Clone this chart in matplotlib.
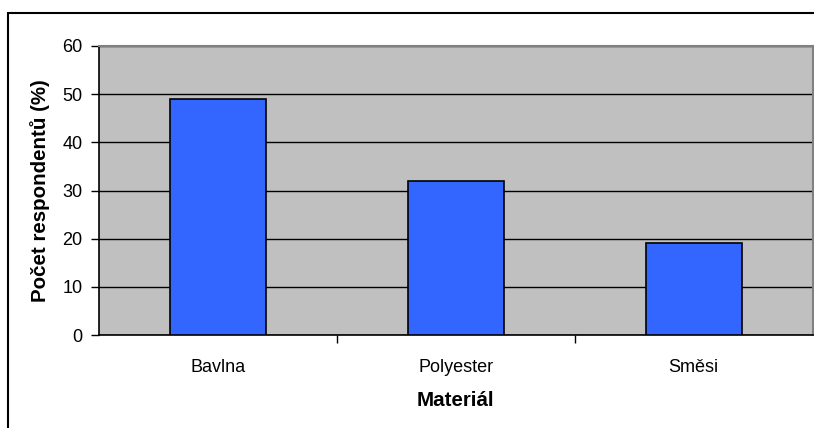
import matplotlib
matplotlib.use("Agg")
from matplotlib import pyplot as plt
from matplotlib.patches import Rectangle

# survey data
materials = ["Bavlna", "Polyester", "Směsi"]
respondents = [49, 32, 19]
y_ticks = [0, 10, 20, 30, 40, 50, 60]

plt.rcParams["font.family"] = ["Liberation Sans", "DejaVu Sans"]

fig = plt.figure(figsize=(8.14, 4.28), dpi=100)
ax = fig.add_axes([99 / 814, 93 / 428, 713.6 / 814, 289 / 428])

# outer frame of the chart
fig.patches.append(Rectangle((8 / 814, -0.2), 1.5, 1.2 - 13 / 428,
                             transform=fig.transFigure, fill=False,
                             edgecolor="black", linewidth=1.5))

positions = range(len(materials))
ax.bar(positions, respondents, width=0.404, color="#3366FF",
       edgecolor="black", linewidth=1.2, zorder=3)

ax.set_facecolor("#C0C0C0")
ax.set_xlim(-0.5, len(materials) - 0.5)
ax.set_ylim(0, 60)
ax.set_yticks(y_ticks)
ax.yaxis.grid(True, color="black", linewidth=1.0, zorder=1)
ax.set_axisbelow(True)

# category ticks sit between the bars
ax.set_xticks([0.5, 1.5], minor=False)
ax.set_xticklabels([])
ax.set_xticks(list(positions), minor=True)
ax.set_xticklabels(materials, minor=True)
ax.tick_params(axis="x", which="major", direction="out", length=6, width=1)
ax.tick_params(axis="x", which="minor", length=0, pad=17, labelsize=13)
ax.tick_params(axis="y", direction="out", length=6, width=1, pad=6,
               labelsize=13)

for side in ["left", "bottom"]:
    ax.spines[side].set_color("black")
    ax.spines[side].set_linewidth(1.2)
for side in ["top", "right"]:
    ax.spines[side].set_color("#808080")
    ax.spines[side].set_linewidth(1.5)

ax.set_xlabel("Materiál", fontsize=14.8, fontweight="bold", labelpad=11)
ax.set_ylabel("Počet respondentů (%)", fontsize=14.8, fontweight="bold",
              labelpad=9)

fig.savefig("out.png", dpi=100)
